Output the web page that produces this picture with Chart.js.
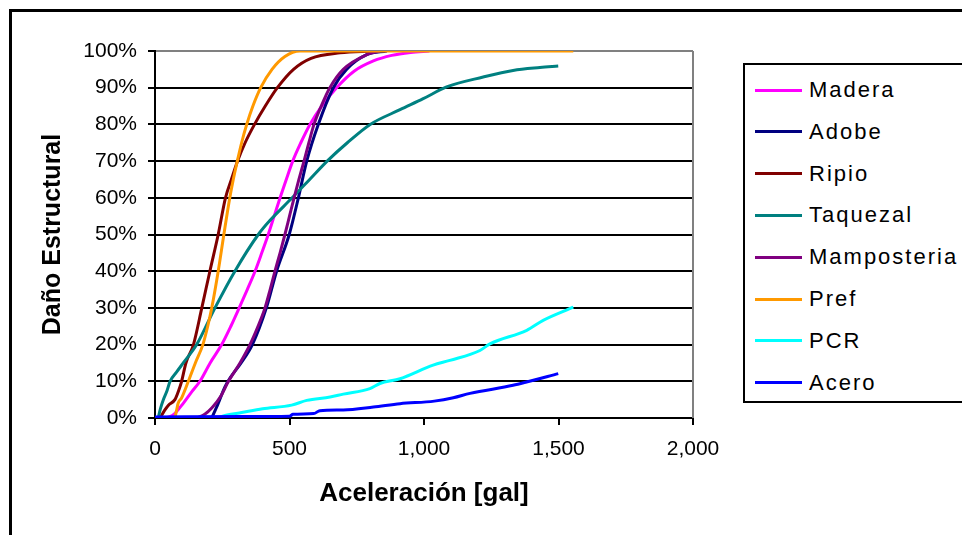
<!DOCTYPE html>
<html><head><meta charset="utf-8">
<script src="https://cdn.jsdelivr.net/npm/chart.js@4"></script>
<style>
html,body{margin:0;padding:0;background:#fff;}
#wrap{position:relative;width:962px;height:535px;overflow:hidden;background:#fff;}
#frame{position:absolute;left:9px;top:9px;width:1000px;height:600px;border:3px solid #000;box-sizing:border-box;pointer-events:none;}
canvas{position:absolute;left:0;top:0;}
#legend{position:absolute;left:743px;top:63px;width:260px;height:340px;border:2px solid #000;box-sizing:border-box;background:#fff;}
.item{position:absolute;left:0;height:30px;display:flex;align-items:center;font-family:"Liberation Sans",Arial,sans-serif;font-size:22px;letter-spacing:2px;color:#000;white-space:nowrap;}
.swatch{display:inline-block;width:47px;height:3px;margin-left:10px;margin-right:7px;}
</style>
</head><body>
<div id="wrap">
<canvas id="c" width="962" height="535"></canvas>
<div id="frame"></div>
<div id="legend"></div>
</div>
<script>
const seriesNames = ['Madera','Adobe','Ripio','Taquezal','Mamposteria','Pref','PCR','Acero'];
const seriesColors = ['#FF00FF','#000080','#800000','#008080','#800080','#FF9900','#00FFFF','#0000FF'];

const maderaX = [43,70,105,135,167,205,248,282,313,343,372,397,421,443,465,488,512,542,576,620,675,740,812,880,950,1020];
const maderaY = [0,1,4,7,10,15,20,25,30,35,40,45,50,55,60,65,70,75,80,85,90,94.5,97.3,98.8,99.6,100];

const adobeX = [211,235,260,280,320,362,414,452,499,533,564,607,663,712,787,862];
const adobeY = [0,4,8.5,11,15,20,30,40,50,60,70,80,90,95,99,100];

const ripioX = [19,35,50,74,88,99,115,143,174,204,235,262,284,307,335,370,410,455,515,580,688,812];
const ripioY = [0,2,3.5,5,7.5,10,15,20,30,40,50,60,65,70,75,80,85,90,95,98,99.5,100];

const taquezalX = [12,20,31,45,56,80,105,155,223,297,384,427,510,575,640,715,800,911,997,1084,1220,1331,1431,1499];
const taquezalY = [0,2.5,5,7.5,10,12.5,15,20,30,40,50,53.8,60,65,70,75,80,84,87,90.2,92.9,94.7,95.5,95.9];

const mamposteriaX = [155,185,211,245,273,316,353,383,409,428,446,465,483,500,517,535,554,572,591,618,650,700,787,836];
const mamposteriaY = [0,1,2.7,6,10,15,20,25,30,35,40,45,50,55,60,65,70,75,80,85,90,95,99,100];

const prefX = [74,80,86,99,124,150,178,196,211,235,256,278,291,306,322,341,364,393,435,483,539,1555];
const prefY = [0,2,4,5.5,10,15,20,25,30,40,50,60,65,70,75,80,85,90,95,98.5,100,100];

const pcrX = [0,223,260,322,400,508,564,651,700,799,836,911,1034,1096,1208,1245,1382,1443,1555];
const pcrY = [0,0,0.7,1.5,2.5,3.5,4.8,5.7,6.5,8,9.4,10.7,14.4,15.7,18.4,20.2,23.9,26.6,30.2];

const aceroX = [0,330,500,513,590,613,700,812,911,1038,1109,1171,1331,1381,1499];
const aceroY = [0.3,0.4,0.5,1,1.2,2,2.2,3,3.9,4.6,5.5,6.7,8.9,9.8,12.1];

const xTicks = [0,500,1000,1500,2000];
const yTicks = [0,10,20,30,40,50,60,70,80,90,100];

const allX = [maderaX,adobeX,ripioX,taquezalX,mamposteriaX,prefX,pcrX,aceroX];
const allY = [maderaY,adobeY,ripioY,taquezalY,mamposteriaY,prefY,pcrY,aceroY];

const FONT = '"Liberation Sans", Arial, sans-serif';

const datasets = seriesNames.map((name,i)=>({
  label: name,
  data: allX[i].map((x,j)=>({x:x,y:allY[i][j]})),
  borderColor: seriesColors[i],
  backgroundColor: seriesColors[i],
  borderWidth: 3,
  pointRadius: 0,
  fill: false,
  cubicInterpolationMode: 'monotone',
  order: seriesNames.length - i
}));

const frameBorder = {
  id:'frameBorder',
  beforeDatasetsDraw(chart){
    const {ctx, chartArea:a} = chart;
    ctx.save();
    ctx.strokeStyle = '#808080';
    ctx.lineWidth = 2;
    ctx.beginPath();
    ctx.moveTo(a.right, a.top);
    ctx.lineTo(a.right, a.bottom);
    ctx.stroke();
    ctx.restore();
  }
};

new Chart(document.getElementById('c'), {
  type: 'line',
  data: { datasets },
  plugins: [frameBorder],
  options: {
    responsive: false,
    animation: false,
    devicePixelRatio: 1,
    layout: { padding: { top: 51, right: 269, bottom: 0, left: 0 } },
    plugins: { legend: { display: false }, tooltip: { enabled: false } },
    scales: {
      x: {
        type: 'linear', min: 0, max: 2000,
        afterBuildTicks: s => { s.ticks = xTicks.map(v=>({value:v})); },
        afterFit: s => { s.height = 117; },
        ticks: { callback: v => v.toLocaleString('en-US'), font: { family: FONT, size: 21 }, color: '#000', padding: 12, maxRotation: 0 },
        grid: { drawOnChartArea: false, drawTicks: true, tickLength: 7, color: '#000', lineWidth: 2 },
        border: { color: '#000', width: 2 },
        title: { display: true, text: 'Aceleración [gal]', color: '#000', font: { family: FONT, size: 26, weight: 'bold' }, padding: { top: 0, bottom: 26 } }
      },
      y: {
        type: 'linear', min: 0, max: 100,
        afterBuildTicks: s => { s.ticks = yTicks.map(v=>({value:v})); },
        afterFit: s => { s.width = 155; },
        ticks: { callback: v => v + '%', font: { family: FONT, size: 21 }, color: '#000', padding: 11 },
        grid: { color: c => (c.tick && c.tick.value === 100) ? '#808080' : '#000', tickColor: '#000', lineWidth: 2, tickLength: 7 },
        border: { color: '#000', width: 2 },
        title: { display: true, text: 'Daño Estructural', color: '#000', font: { family: FONT, size: 25, weight: 'bold' }, padding: { top: 38, bottom: 0 } }
      }
    }
  }
});

const legend = document.getElementById('legend');
seriesNames.forEach((name,i)=>{
  const it = document.createElement('div');
  it.className = 'item';
  it.style.top = (90 + i*41.8 - 63 - 2 - 15) + 'px';
  const sw = document.createElement('span');
  sw.className = 'swatch';
  sw.style.background = seriesColors[i];
  const tx = document.createElement('span');
  tx.textContent = name;
  it.appendChild(sw); it.appendChild(tx);
  legend.appendChild(it);
});
</script>
</body></html>
